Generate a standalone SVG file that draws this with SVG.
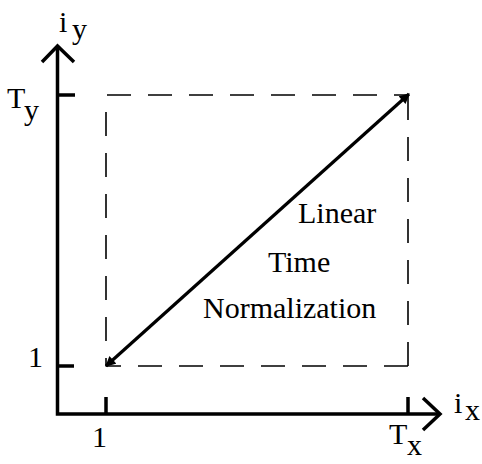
<svg xmlns="http://www.w3.org/2000/svg" width="482" height="464" viewBox="0 0 482 464">
<defs>
<style>
.t{font-family:"Liberation Serif","Times New Roman",serif;fill:#000}
.lab{font-size:30px}
.ax{stroke:#000;stroke-width:3.5;fill:none;stroke-linecap:butt}
.dash{stroke:#000;stroke-width:1.6;fill:none;stroke-dasharray:24 17}
</style>
<marker id="ah" viewBox="0 0 10 10" refX="9" refY="5" markerWidth="3.6" markerHeight="3.2" orient="auto-start-reverse" markerUnits="strokeWidth">
<path d="M0,0 L10,5 L0,10 z" fill="#000"/>
</marker>
</defs>
<rect width="482" height="464" fill="#fff"/>
<g id="axes">
<path class="ax" d="M57.5,46 V414 H440"/>
<path class="ax" d="M42,62 L57.5,46 L74,62"/>
<path class="ax" d="M423,398 L440,414 L423,430"/>
<path class="ax" d="M57.5,95 H75 M57.5,366 H74 M106,414 V397 M408,414 V397"/>
</g>
<g id="box">
<line class="dash" x1="107" y1="95" x2="408" y2="95"/>
<line class="dash" x1="408" y1="366" x2="106" y2="366"/>
<line class="dash" x1="106" y1="112" x2="106" y2="366"/>
<line class="dash" x1="408" y1="366" x2="408" y2="95"/>
</g>
<g id="connectors">
<line x1="106" y1="366" x2="409" y2="94" stroke="#000" stroke-width="3.2" marker-start="url(#ah)" marker-end="url(#ah)"/>
</g>
<g id="labels">
<text class="t lab" x="59" y="32">i</text>
<text class="t lab" x="72" y="39">y</text>
<text class="t lab" x="7" y="108">T</text>
<text class="t lab" x="24" y="120">y</text>
<text class="t lab" x="28" y="367">1</text>
<text class="t lab" x="92" y="447">1</text>
<text class="t lab" x="389" y="444">T</text>
<text class="t lab" x="407" y="455">x</text>
<text class="t lab" x="454" y="413">i</text>
<text class="t lab" x="465" y="420">x</text>
</g>
<g id="text">
<text class="t lab" x="298" y="223">Linear</text>
<text class="t lab" x="268" y="272">Time</text>
<text class="t lab" x="203" y="318">Normalization</text>
</g>
</svg>
